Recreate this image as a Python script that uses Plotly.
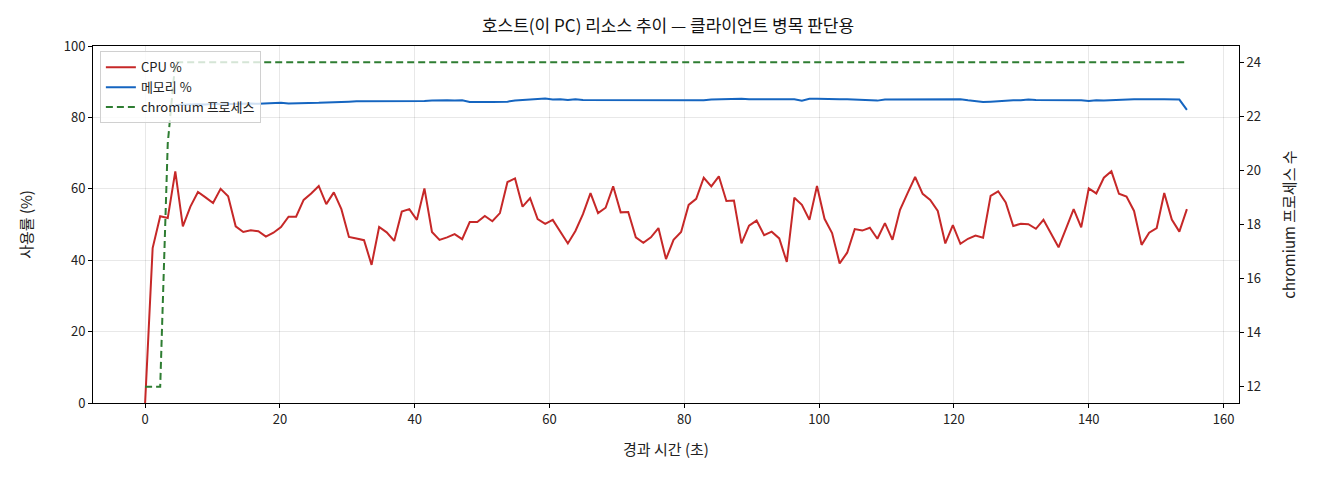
import plotly.graph_objects as go

# ---- data ----
elapsed_s = [
    0.00, 1.12, 2.24, 3.36, 4.48, 5.60, 6.72, 7.84, 8.96, 10.08,
    11.20, 12.32, 13.44, 14.56, 15.68, 16.80, 17.92, 19.04, 20.16, 21.28,
    22.40, 23.52, 24.64, 25.76, 26.88, 28.00, 29.12, 30.24, 31.36, 32.48,
    33.60, 34.72, 35.84, 36.96, 38.08, 39.20, 40.32, 41.44, 42.56, 43.68,
    44.80, 45.92, 47.04, 48.16, 49.28, 50.40, 51.52, 52.64, 53.76, 54.88,
    56.00, 57.12, 58.24, 59.36, 60.48, 61.60, 62.72, 63.84, 64.96, 66.08,
    67.20, 68.32, 69.44, 70.56, 71.68, 72.80, 73.92, 75.04, 76.16, 77.28,
    78.40, 79.52, 80.64, 81.76, 82.88, 84.00, 85.12, 86.24, 87.36, 88.48,
    89.60, 90.72, 91.84, 92.96, 94.08, 95.20, 96.32, 97.44, 98.56, 99.68,
    100.80, 101.92, 103.04, 104.16, 105.28, 106.40, 107.52, 108.64, 109.76, 110.88,
    112.00, 113.12, 114.24, 115.36, 116.48, 117.60, 118.72, 119.84, 120.96, 122.08,
    123.20, 124.32, 125.44, 126.56, 127.68, 128.80, 129.92, 131.04, 132.16, 133.28,
    134.40, 135.52, 136.64, 137.76, 138.88, 140.00, 141.12, 142.24, 143.36, 144.48,
    145.60, 146.72, 147.84, 148.96, 150.08, 151.20, 152.32, 153.44, 154.56,
]

cpu_pct = [
    0.0,
    43.4, 52.3, 51.8, 64.9, 49.5, 55.0, 59.1, 57.6, 56.0, 60.0, 57.9, 49.5,
    47.9, 48.4, 48.1, 46.6, 47.7, 49.3, 52.2, 52.2, 56.9, 58.7, 60.8,
    55.7, 59.0, 54.3, 46.5, 46.1, 45.6, 38.7, 49.3, 47.8, 45.4, 53.6, 54.3,
    51.3, 60.1, 47.9, 45.7, 46.4, 47.3, 45.9, 50.7, 50.7, 52.4, 50.9,
    53.2, 61.9, 62.9, 55.0, 57.4, 51.5, 50.2, 51.3, 47.9, 44.7, 48.2, 52.9,
    58.8, 53.2, 54.7, 60.7, 53.4, 53.5, 46.4, 44.9, 46.4, 49.0, 40.3,
    45.7, 47.9, 55.5, 57.2, 63.1, 60.7, 63.5, 56.6, 56.7, 44.7, 49.7, 51.1,
    47.0, 48.0, 46.1, 39.5, 57.5, 55.5, 51.3, 60.8, 51.6, 47.6, 39.1,
    42.1, 48.7, 48.3, 49.1, 46.0, 50.4, 45.7, 54.1, 58.8, 63.3, 58.6, 56.9,
    53.8, 44.7, 49.8, 44.6, 46.0, 46.9, 46.3, 58.0, 59.3, 56.2, 49.6, 50.2,
    50.1, 48.8, 51.3, 47.6, 43.6, 48.9, 54.3, 49.2, 60.1, 58.7, 63.1, 64.9,
    58.6, 57.8, 53.8, 44.3, 47.7, 49.0, 58.8, 51.4, 48.0, 54.3,
]

mem_pct = [
    None, None, None, None,
    83.5, 83.6, 83.5, 83.7, 83.6, 83.8, 83.7,
    83.8, 83.9, 83.8, 83.9, 83.8, 83.9, 84.0,
    84.1, 83.9, 83.9, 84.0, 84.1, 84.1, 84.2, 84.2, 84.3,
    84.4, 84.5, 84.5, 84.6, 84.5, 84.6, 84.6, 84.5, 84.6, 84.4, 84.6, 84.7, 84.8,
    84.8, 84.7, 84.8, 84.3, 84.4, 84.3, 84.3, 84.3, 84.4,
    84.7, 84.8, 85.0, 85.2, 85.3,
    85.0, 85.1, 84.9, 85.1, 84.9, 84.9, 84.7,
    84.7, 84.7, 84.7, 84.8, 84.7, 84.7, 84.8, 84.8, 84.8, 84.8, 84.7, 84.8, 84.7, 84.8,
    85.0, 85.1, 85.1, 85.2, 85.2, 85.1, 85.1, 85.2, 85.1, 85.1, 85.0, 85.1,
    84.7,
    85.2, 85.2, 85.1, 85.2, 85.1, 85.1, 85.0,
    84.9, 84.9, 84.7,
    85.0, 85.0, 85.0, 85.1, 85.2, 85.2, 85.2, 85.1, 85.1,
    85.0, 85.1, 84.8, 84.6,
    84.3, 84.4, 84.6,
    84.7, 84.8, 84.8, 85.0, 84.9, 84.9, 84.9, 84.8, 84.8, 84.7, 84.8,
    84.6, 84.8, 84.7, 84.8, 85.1,
    85.1, 85.1, 85.1, 85.0, 85.1, 85.1, 85.1, 85.0,
    82.1,
]

chromium_procs = [
    12, 12, 12, 21,
    24, 24, 24, 24, 24, 24, 24, 24, 24, 24, 24, 24, 24, 24, 24, 24, 24, 24, 24,
    24, 24, 24, 24, 24, 24, 24, 24, 24, 24, 24, 24, 24, 24, 24, 24, 24, 24, 24,
    24, 24, 24, 24, 24, 24, 24, 24, 24, 24, 24, 24, 24, 24, 24, 24, 24, 24, 24,
    24, 24, 24, 24, 24, 24, 24, 24, 24, 24, 24, 24, 24, 24, 24, 24, 24, 24, 24,
    24, 24, 24, 24, 24, 24, 24, 24, 24, 24, 24, 24, 24, 24, 24, 24, 24, 24, 24,
    24, 24, 24, 24, 24, 24, 24, 24, 24, 24, 24, 24, 24, 24, 24, 24, 24, 24, 24,
    24, 24, 24, 24, 24, 24, 24, 24, 24, 24, 24, 24, 24, 24, 24, 24, 24, 24, 24,
    24, 24, 24, 24, 24, 24, 24,
    20, 16,
]

x_ticks = [0, 20, 40, 60, 80, 100, 120, 140, 160]
y_ticks = [0, 20, 40, 60, 80, 100]
y2_ticks = [12, 14, 16, 18, 20, 22, 24]

FONT = "Noto Sans CJK KR, Noto Sans, sans-serif"

fig = go.Figure()
fig.add_trace(go.Scatter(x=elapsed_s, y=cpu_pct, mode="lines", name="CPU %",
                         line=dict(color="#c62828", width=2)))
fig.add_trace(go.Scatter(x=elapsed_s, y=mem_pct, mode="lines", name="메모리 %",
                         line=dict(color="#1565c0", width=2)))
fig.add_trace(go.Scatter(x=elapsed_s, y=chromium_procs, mode="lines", name="chromium 프로세스",
                         yaxis="y2", line=dict(color="#2e7d32", width=2, dash="7px,4px")))

axis_common = dict(showline=True, linecolor="black", linewidth=1, ticks="outside",
                   ticklen=4, tickcolor="black", zeroline=False,
                   tickfont=dict(size=13, color="#222"))

fig.update_layout(
    width=1320, height=480,
    margin=dict(l=85, r=89, t=38, b=85),
    paper_bgcolor="white", plot_bgcolor="white",
    font=dict(family=FONT, color="#222"),
    title=dict(text="호스트(이 PC) 리소스 추이 — 클라이언트 병목 판단용",
               x=0.5, xanchor="center", y=0.962, yanchor="middle",
               font=dict(size=17, color="#111")),
    xaxis=dict(range=[-7.73, 162.29], tickvals=x_ticks, mirror=True,
               showgrid=True, gridcolor="rgba(0,0,0,0.09)",
               title=dict(text="경과 시간 (초)", font=dict(size=15), standoff=17),
               **axis_common),
    yaxis=dict(range=[0, 100], tickvals=y_ticks, showgrid=True,
               gridcolor="rgba(0,0,0,0.09)",
               title=dict(text="사용률 (%)", font=dict(size=15), standoff=27),
               **axis_common),
    yaxis2=dict(range=[11.4, 24.6], tickvals=y2_ticks, overlaying="y", side="right",
                showgrid=False,
                title=dict(text="chromium 프로세스 수", font=dict(size=15), standoff=24),
                **axis_common),
    legend=dict(x=0.006, y=0.985, xanchor="left", yanchor="top",
                bgcolor="rgba(255,255,255,0.8)", bordercolor="#d0d0d0", borderwidth=1,
                font=dict(size=13, color="#222"), tracegroupgap=0, itemwidth=30),
    showlegend=True,
)

fig.write_html("out.html")
